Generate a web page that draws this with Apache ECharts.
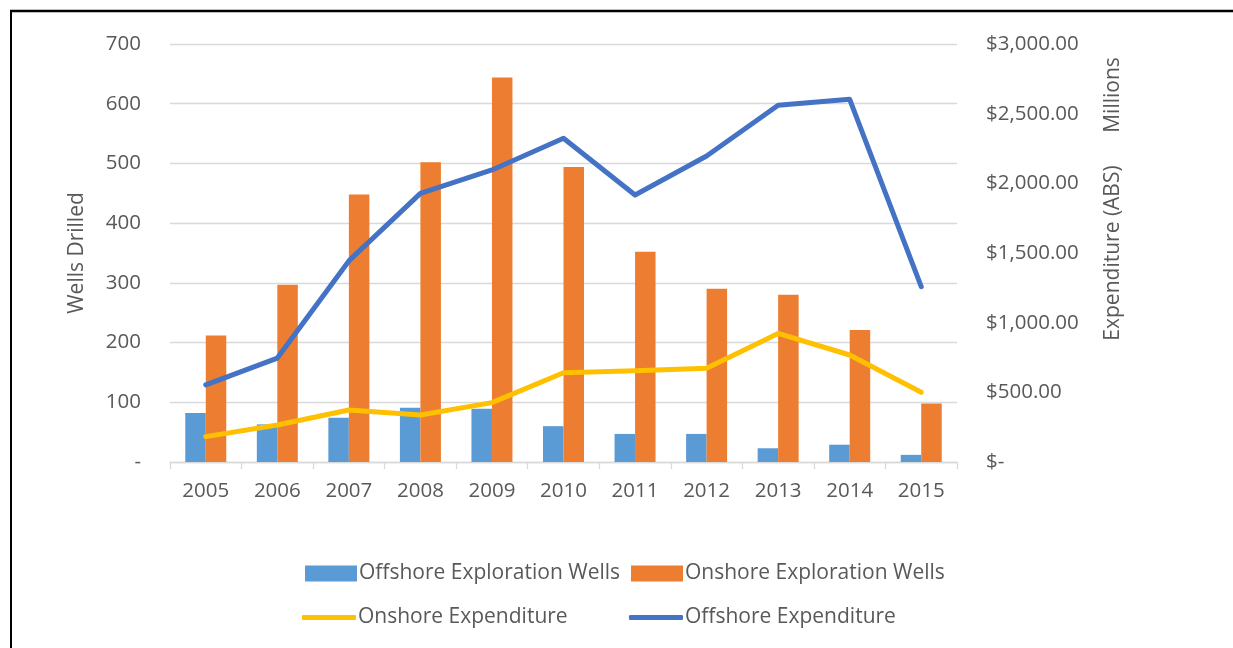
<!DOCTYPE html>
<html>
<head>
<meta charset="utf-8">
<script src="https://cdn.jsdelivr.net/npm/echarts@6/dist/echarts.min.js"></script>
<style>
  html, body { margin: 0; padding: 0; background: #fff; }
  #chart { width: 1233px; height: 648px; }
</style>
</head>
<body>
<div id="chart"></div>
<script>
  // data
  var years = ['2005', '2006', '2007', '2008', '2009', '2010', '2011', '2012', '2013', '2014', '2015'];
  var offshoreWells = [82, 63, 74, 91, 89, 60, 47, 47, 23, 29, 12];
  var onshoreWells = [212, 297, 448, 502, 644, 494, 352, 290, 280, 221, 98];
  var onshoreExp = [182, 266, 373, 337, 426, 641, 655, 672, 923, 768, 500];
  var offshoreExp = [553, 746, 1443, 1928, 2096, 2323, 1916, 2196, 2560, 2603, 1258];

  var txt = '#595959';
  var font = 'Open Sans';
  var fs = 20.5;
  var fsBig = 21;

  // one legend per cell, Excel lays them out in a grid
  function legendCell(name, left, top, isLine) {
    return {
      left: left, top: top,
      itemWidth: isLine ? 54 : 52,
      itemHeight: isLine ? 5 : 16,
      itemGap: 0,
      icon: isLine ? 'roundRect' : 'rect',
      textStyle: { color: txt, fontFamily: font, fontSize: fsBig, padding: [0, 0, 0, -3] },
      data: [name]
    };
  }

  var chart = echarts.init(document.getElementById('chart'));
  var option = {
    animation: false,
    backgroundColor: '#fff',
    grid: { left: 170, right: 276, top: 44, bottom: 186 },
    legend: [
      legendCell('Offshore Exploration Wells', 300, 558, false),
      legendCell('Onshore Exploration Wells', 626, 558, false),
      legendCell('Onshore Expenditure', 297, 602, true),
      legendCell('Offshore Expenditure', 624, 602, true)
    ],
    xAxis: {
      type: 'category',
      data: years,
      axisLine: { lineStyle: { color: '#d9d9d9', width: 1.3 } },
      axisTick: { show: true, length: 7, lineStyle: { color: '#d9d9d9', width: 1.3 } },
      axisLabel: { color: txt, fontFamily: font, fontSize: fs, margin: 19 }
    },
    yAxis: [{
      type: 'value',
      min: 0, max: 700, interval: 100,
      name: 'Wells Drilled',
      nameLocation: 'middle',
      nameRotate: 90,
      nameGap: 82,
      nameTextStyle: { color: txt, fontFamily: font, fontSize: fsBig },
      axisLine: { show: false },
      axisTick: { show: false },
      splitLine: { lineStyle: { color: '#d9d9d9', width: 1.3 } },
      axisLabel: {
        color: txt, fontFamily: font, fontSize: fs, margin: 29,
        formatter: function (v) { return v === 0 ? '-' : v; }
      }
    }, {
      type: 'value',
      min: 0, max: 3000, interval: 500,
      position: 'right',
      name: 'Expenditure (ABS)',
      nameLocation: 'middle',
      nameRotate: 90,
      nameGap: 146,
      nameTextStyle: { color: txt, fontFamily: font, fontSize: fsBig },
      axisLine: { show: false },
      axisTick: { show: false },
      splitLine: { show: false },
      axisLabel: {
        color: txt, fontFamily: font, fontSize: fs, margin: 29,
        formatter: function (v) {
          if (v === 0) return '$-';
          return '$' + v.toLocaleString('en-US', { minimumFractionDigits: 2, maximumFractionDigits: 2 });
        }
      }
    }],
    graphic: [
      { type: 'line', shape: { x1: 10, y1: 11, x2: 1233, y2: 11 }, style: { stroke: '#000', lineWidth: 2.5 } },
      { type: 'line', shape: { x1: 11, y1: 10, x2: 11, y2: 648 }, style: { stroke: '#000', lineWidth: 2 } },
      {
        type: 'text', x: 1113, y: 95, rotation: Math.PI / 2,
        style: { text: 'Millions', fill: txt, font: fsBig + 'px "' + font + '"', textAlign: 'center', textVerticalAlign: 'middle' }
      }
    ],
    series: [{
      name: 'Offshore Exploration Wells',
      type: 'bar',
      data: offshoreWells,
      barWidth: 20.5,
      barGap: '0%',
      itemStyle: { color: '#5B9BD5' }
    }, {
      name: 'Onshore Exploration Wells',
      type: 'bar',
      data: onshoreWells,
      barWidth: 20.5,
      barGap: '0%',
      itemStyle: { color: '#ED7D31' }
    }, {
      name: 'Onshore Expenditure',
      type: 'line',
      yAxisIndex: 1,
      data: onshoreExp,
      symbol: 'none',
      itemStyle: { color: '#FFC000' },
      lineStyle: { color: '#FFC000', width: 5, cap: 'round', join: 'round' }
    }, {
      name: 'Offshore Expenditure',
      type: 'line',
      yAxisIndex: 1,
      data: offshoreExp,
      symbol: 'none',
      itemStyle: { color: '#4472C4' },
      lineStyle: { color: '#4472C4', width: 5, cap: 'round', join: 'round' }
    }]
  };
  chart.setOption(option);
</script>
</body>
</html>
